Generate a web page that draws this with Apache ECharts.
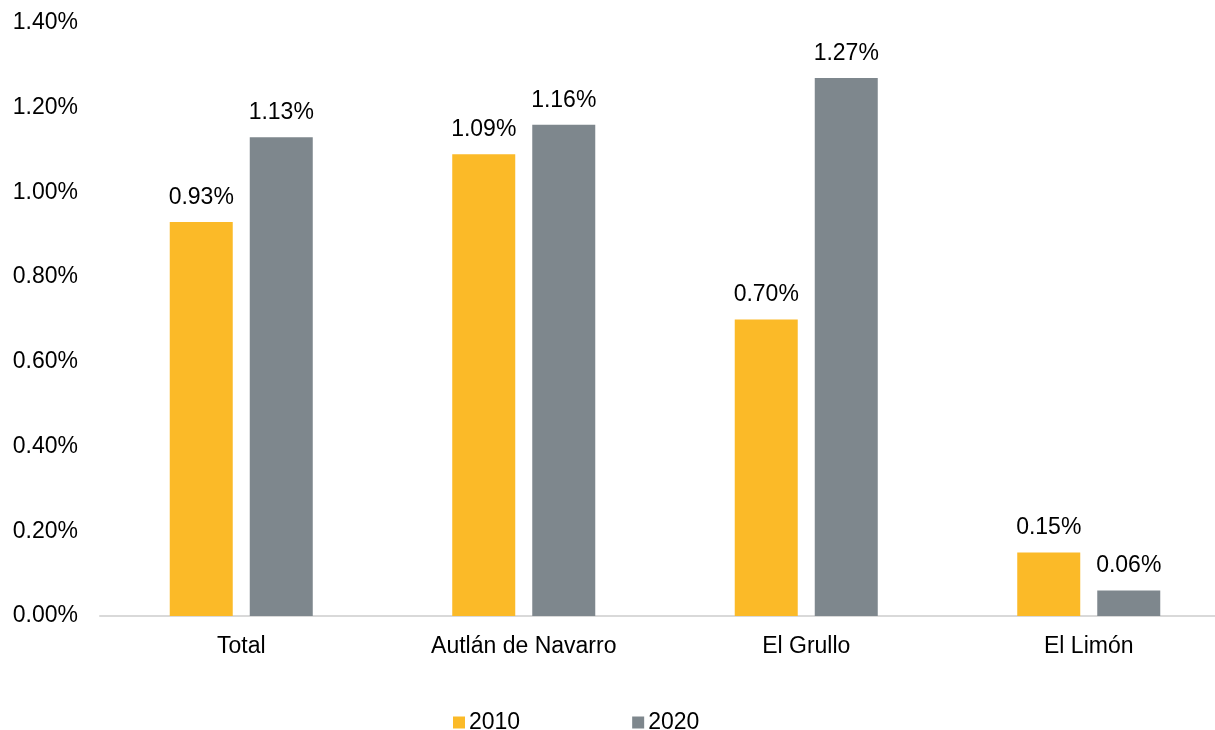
<!DOCTYPE html>
<html>
<head>
<meta charset="utf-8">
<script src="https://cdn.jsdelivr.net/npm/echarts@6/dist/echarts.min.js"></script>
<style>html,body{margin:0;padding:0;background:#fff;overflow:hidden;width:1215px;height:730px}#c{width:1240px;height:730px}</style>
</head>
<body>
<div id="c"></div>
<script>
const categories = ['Total', 'Autlán de Navarro', 'El Grullo', 'El Limón'];
const seriesNames = ['2010', '2020'];
const values2010 = [0.93, 1.09, 0.70, 0.15];
const values2020 = [1.13, 1.16, 1.27, 0.06];
const yTicks = [0, 0.2, 0.4, 0.6, 0.8, 1.0, 1.2, 1.4];

const font = 'Liberation Sans, Arial, sans-serif';
const fs = 23;
const chart = echarts.init(document.getElementById('c'), null, {renderer: 'canvas'});
const labelCfg = {
  show: true, position: 'top', distance: 13,
  fontFamily: font, fontSize: fs, color: '#000',
  formatter: p => p.value.toFixed(2) + '%'
};
chart.setOption({
  animation: false,
  textStyle: {fontFamily: font},
  grid: {left: 100, top: 23, width: 1130, bottom: 114, containLabel: false},
  legend: {
    top: 711, left: 453, padding: 0,
    itemWidth: 12, itemHeight: 12, itemGap: 112, icon: 'rect',
    textStyle: {fontFamily: font, fontSize: fs, color: '#000', padding: [0,0,0,-1]},
    data: seriesNames
  },
  xAxis: {
    type: 'category', data: categories,
    axisLine: {lineStyle: {color: '#d9d9d9', width: 2}},
    axisTick: {show: false},
    axisLabel: {fontFamily: font, fontSize: fs, color: '#000', margin: 19}
  },
  yAxis: {
    type: 'value', min: yTicks[0], max: yTicks[yTicks.length-1], interval: 0.2,
    splitLine: {show: false},
    axisLine: {show: false}, axisTick: {show: false},
    axisLabel: {fontFamily: font, fontSize: fs, color: '#000', margin: 22,
      padding: [5, 0, 0, 0],
      formatter: v => v.toFixed(2) + '%'}
  },
  series: [
    {name: seriesNames[0], type: 'bar', data: values2010, barWidth: 63, barGap: '27%',
     itemStyle: {color: '#FBBA28'}, label: labelCfg},
    {name: seriesNames[1], type: 'bar', data: values2020, barWidth: 63,
     itemStyle: {color: '#7E878D'}, label: labelCfg}
  ]
});
</script>
</body>
</html>
